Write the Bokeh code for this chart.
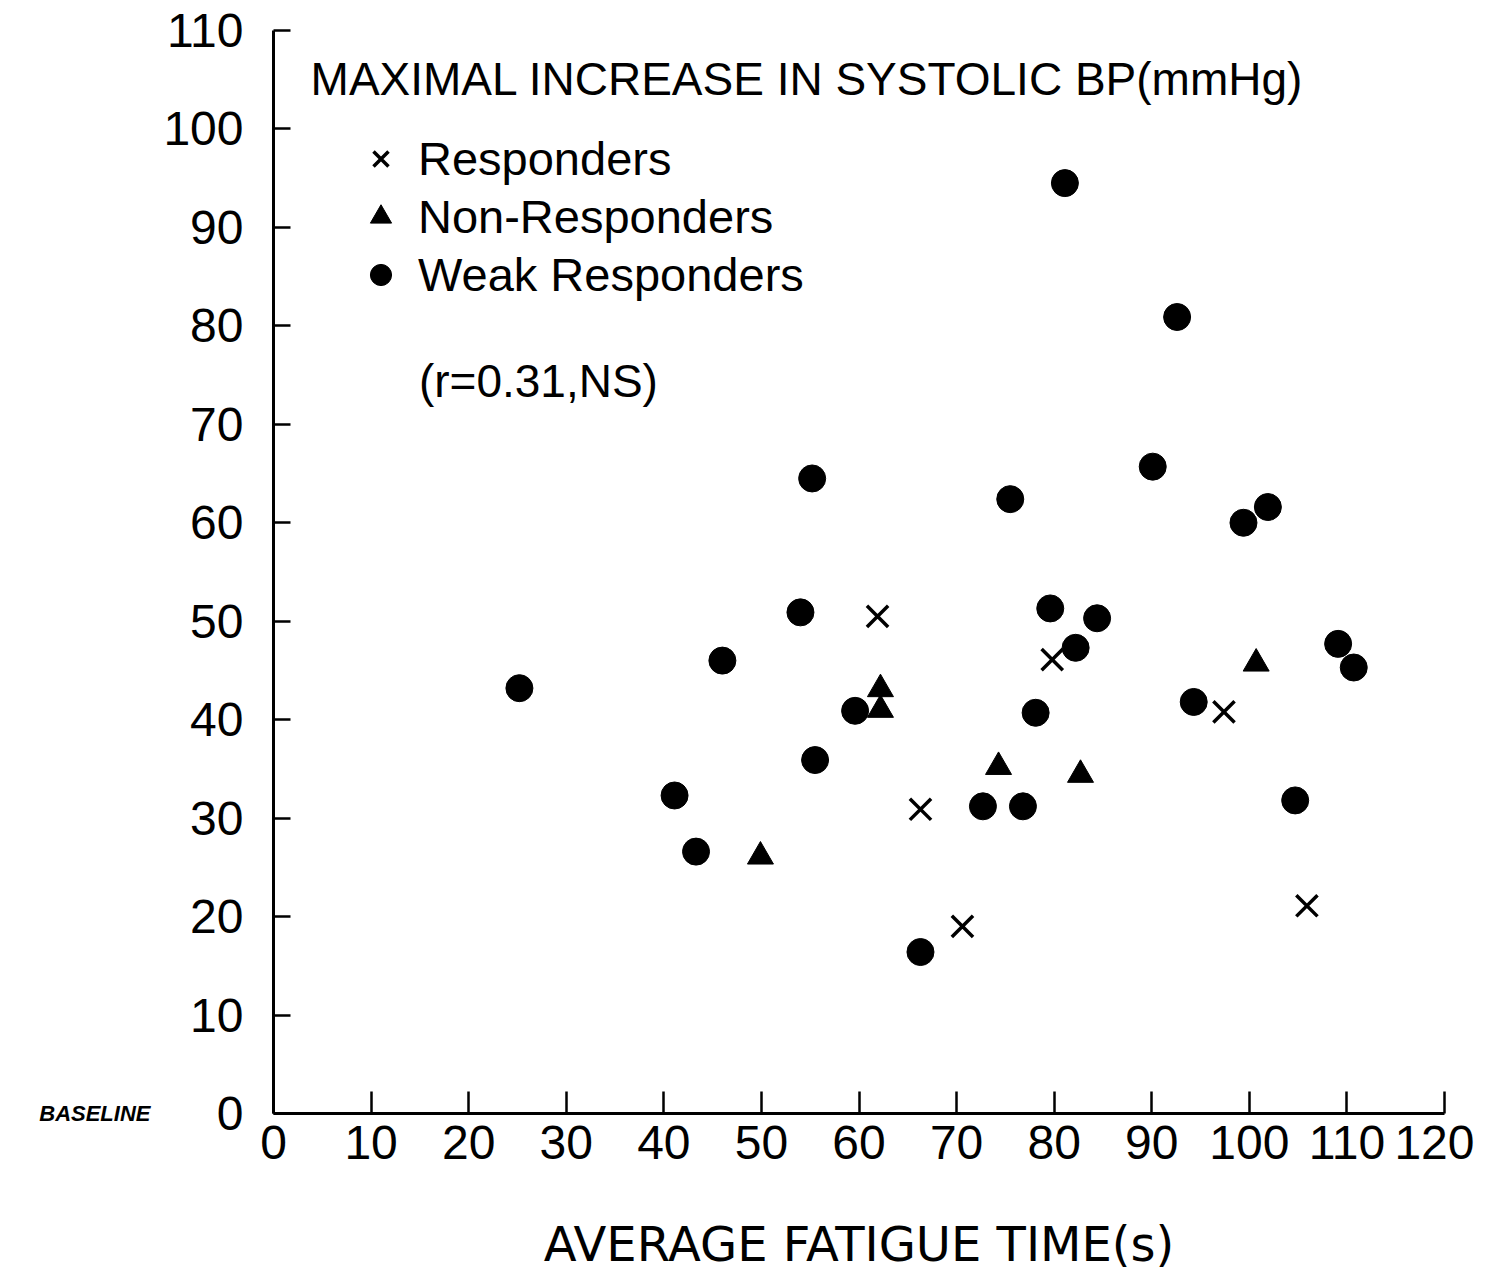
from bokeh.plotting import figure
from bokeh.models import Range1d, FixedTicker, Label, Legend, LegendItem, LinearAxis
from bokeh.embed import file_html
from bokeh.resources import INLINE

# ---- data ----
resp_x = [61.9, 66.3, 70.6, 79.8, 97.4, 105.9]
resp_y = [50.5, 30.9, 19.0, 46.1, 40.8, 21.1]

nonresp_x = [49.9, 62.2, 62.2, 74.3, 82.7, 100.7]
nonresp_y = [26.1, 43.1, 41.0, 35.2, 34.4, 45.7]

weak_x = [25.2, 41.1, 43.3, 46.0, 54.0, 55.2, 55.5, 59.6, 66.3, 72.7, 75.5, 76.8, 78.1,
          79.6, 81.1, 82.2, 84.4, 90.1, 92.6, 94.3, 99.4, 101.9, 104.7, 109.1, 110.7]
weak_y = [43.2, 32.3, 26.6, 46.0, 50.9, 64.5, 35.9, 40.9, 16.4, 31.2, 62.4, 31.2, 40.7,
          51.3, 94.5, 47.3, 50.3, 65.7, 80.9, 41.8, 60.0, 61.6, 31.8, 47.7, 45.3]

x_ticks = [0, 10, 20, 30, 40, 50, 60, 70, 80, 90, 100, 110, 120]
y_ticks = [0, 10, 20, 30, 40, 50, 60, 70, 80, 90, 100, 110]

series_labels = ["Responders", "Non-Responders", "Weak Responders"]
y_title = "MAXIMAL INCREASE IN SYSTOLIC BP(mmHg)"
x_title = "AVERAGE FATIGUE TIME(s)"
stat_note = "(r=0.31,NS)"
baseline_label = "BASELINE"

TICKF = "Liberation Sans"
REG = "Liberation Sans"

p = figure(frame_width=1171, frame_height=1083,
           min_border_left=273, min_border_right=30, min_border_top=30, min_border_bottom=140,
           x_range=Range1d(0, 120), y_range=Range1d(0, 110),
           output_backend="svg", toolbar_location=None, tools="")
p.outline_line_color = None
p.xgrid.visible = False
p.ygrid.visible = False
p.background_fill_color = "white"
p.border_fill_color = "white"

for ax in (p.xaxis[0], p.yaxis[0]):
    ax.minor_tick_line_color = None
    ax.major_tick_out = 0
    ax.axis_line_width = 3
    ax.major_tick_line_width = 2.5
    ax.axis_line_color = "black"
    ax.major_tick_line_color = "black"
    ax.major_label_text_color = "black"
    ax.major_label_text_font = TICKF

p.xaxis.ticker = FixedTicker(ticks=x_ticks)
p.yaxis.ticker = FixedTicker(ticks=y_ticks)
p.xaxis.major_tick_in = 22
p.yaxis.major_tick_in = 17
p.xaxis.major_label_text_font_size = "48px"
p.yaxis.major_label_text_font_size = "48px"
p.xaxis.major_label_standoff = 12
p.yaxis.major_label_standoff = 30

p.xaxis.axis_label = x_title
p.xaxis.axis_label_text_font = "DejaVu Sans"
p.xaxis.axis_label_text_font_style = "normal"
p.xaxis.axis_label_text_font_size = "48px"
p.xaxis.axis_label_text_color = "black"
p.xaxis.axis_label_standoff = 54

# extra left axis carrying only the "BASELINE" note at y = 0
base_ax = LinearAxis(ticker=FixedTicker(ticks=[0]), major_label_overrides={0: baseline_label},
                     axis_line_color=None, major_tick_line_color=None, minor_tick_line_color=None,
                     major_label_text_font=TICKF, major_label_text_font_style="bold italic",
                     major_label_text_font_size="22px", major_label_text_color="black",
                     major_label_standoff=4)
p.add_layout(base_ax, "left")

r_x = p.scatter(resp_x, resp_y, marker="x", size=30, line_width=3.5, line_color="black")
r_t = p.scatter(nonresp_x, nonresp_y, marker="triangle", size=26, fill_color="black", line_color="black")
r_c = p.scatter(weak_x, weak_y, marker="circle", size=27, fill_color="black", line_color="black")

legend = Legend(items=[LegendItem(label=series_labels[0], renderers=[r_x]),
                       LegendItem(label=series_labels[1], renderers=[r_t]),
                       LegendItem(label=series_labels[2], renderers=[r_c])],
                location=(80, 811), border_line_color=None, background_fill_alpha=0,
                padding=0, margin=0, spacing=3, glyph_width=55, glyph_height=53,
                label_standoff=10, label_text_font=REG, label_text_font_size="47px",
                label_height=53, label_text_color="black")
p.add_layout(legend)

p.add_layout(Label(x=3.8, y=105.1, text=y_title, text_font=REG, text_font_size="46px",
                   text_baseline="middle", text_color="black"))
p.add_layout(Label(x=14.9, y=74.4, text=stat_note, text_font=REG, text_font_size="46px",
                   text_baseline="middle", text_color="black"))

open("out.html", "w").write(file_html(p, INLINE))
